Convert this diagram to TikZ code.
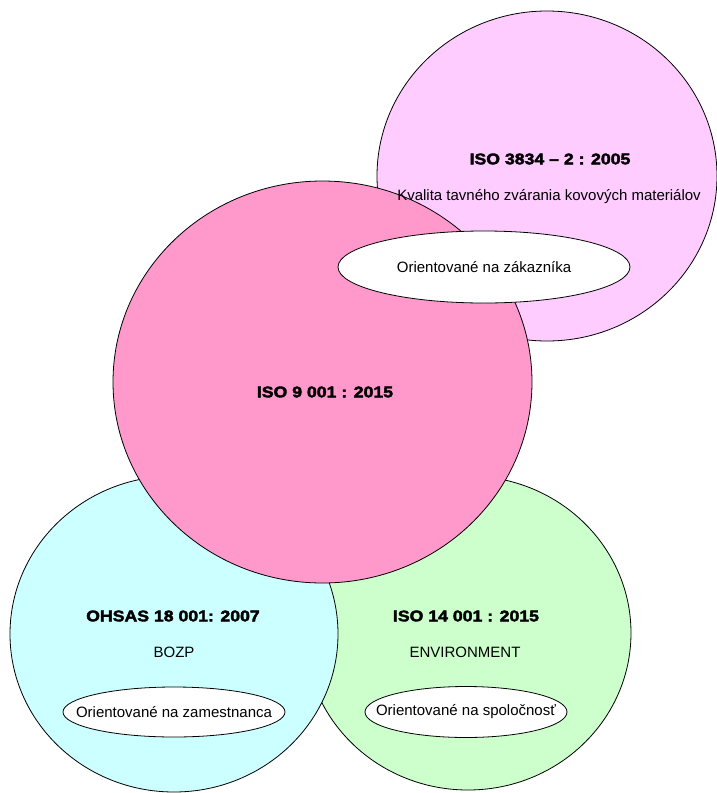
\documentclass[tikz,border=0pt]{standalone}
\usepackage{fontspec}
\setmainfont{Liberation Sans}
\newfontfamily\heavyfont{Liberation Sans Bold}[FakeStretch=1.14, FakeBold=2.5]
\usetikzlibrary{shapes.geometric}
\definecolor{bigpink}{HTML}{FF99CC}
\definecolor{lightpink}{HTML}{FFCCFF}
\definecolor{lightcyan}{HTML}{CCFFFF}
\definecolor{lightgreen}{HTML}{CCFFCC}
\tikzset{
  blob/.style={ellipse, draw=black, line width=0.8pt, inner sep=0pt, outer sep=0pt},
  tag/.style={ellipse, draw=black, fill=white, line width=0.8pt, inner sep=0pt, outer sep=0pt},
  title/.style={font=\heavyfont\fontsize{15.5}{18}\selectfont, inner sep=0pt},
  txt/.style={font=\fontsize{15}{18}\selectfont, inner sep=0pt}
}
\begin{document}
\begin{tikzpicture}[x=1pt,y=-1pt]
\useasboundingbox (0,0) rectangle (716,793);
% circles
\node[blob, fill=lightgreen, minimum width=326pt, minimum height=314pt] (green) at (468,633) {};
\node[blob, fill=lightcyan, minimum width=328pt, minimum height=316pt] (cyan) at (174,634) {};
\node[blob, fill=lightpink, minimum width=340pt, minimum height=330pt] (tr) at (547,176) {};
\node[blob, fill=bigpink, minimum width=419pt, minimum height=402pt] (big) at (322.5,382) {};
% inner ellipses
\node[tag, minimum width=292pt, minimum height=72pt] (cust) at (484,267) {};
\node[tag, minimum width=222pt, minimum height=50pt] (empl) at (174,712) {};
\node[tag, minimum width=202pt, minimum height=51pt] (soc) at (466,712) {};
% texts
\node[title] (t1) at (550,159) {ISO 3834 – 2 : 2005};
\node[txt] (t1b) at (549,197) {Kvalita tavného zvárania kovových materiálov};
\node[txt] (custt) at (cust) {Orientované na zákazníka};
\node[title] (t2) at (325,392) {ISO 9 001 : 2015};
\node[title] (t3) at (173,616) {OHSAS 18 001: 2007};
\node[txt] (t3b) at (174,652) {BOZP};
\node[txt] (emplt) at (empl) {Orientované na zamestnanca};
\node[title] (t4) at (466,616) {ISO 14 001 : 2015};
\node[txt] (t4b) at (465,652) {ENVIRONMENT};
\node[txt] (soct) at (soc) {Orientované na spoločnosť};
\end{tikzpicture}
\end{document}
